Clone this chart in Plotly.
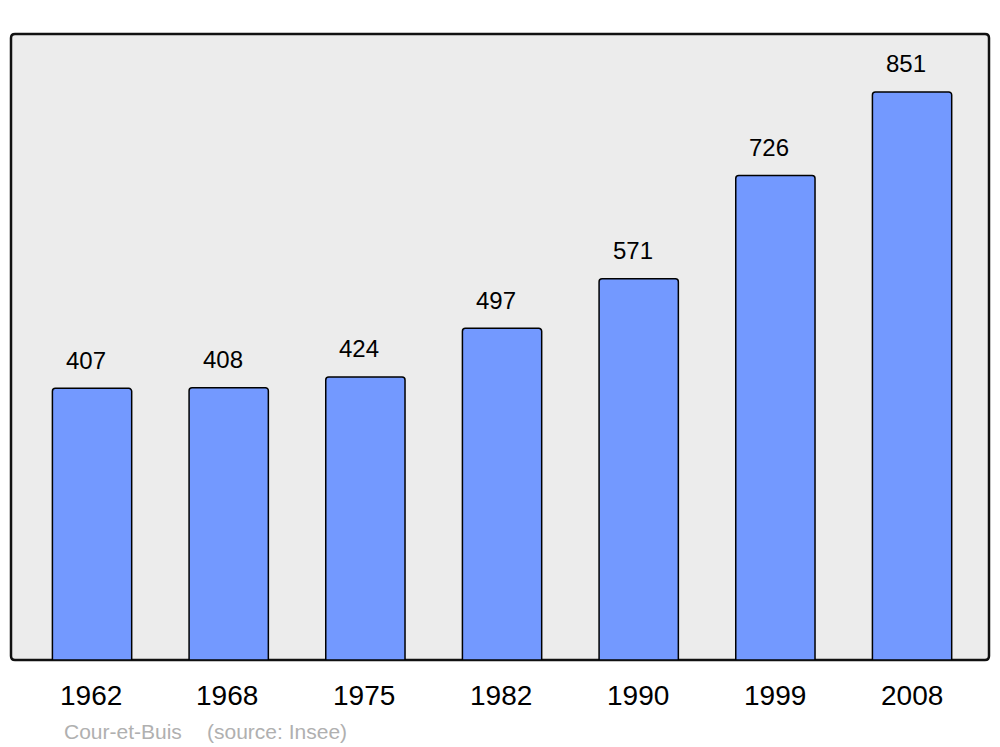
import plotly.graph_objects as go

years = ["1962", "1968", "1975", "1982", "1990", "1999", "2008"]
population = [407, 408, 424, 497, 571, 726, 851]
commune = "Cour-et-Buis"
source = "(source: Insee)"

xs = list(range(len(years)))
# page has an 8px body margin; compensate so the plot lands at page x 11..989, y 34..660
W, H = 992, 739
L, T = 3, 26
pw, ph = 978, 626
R, B = W - L - pw, H - T - ph

fig = go.Figure(go.Bar(
    x=xs, y=population, width=0.58,
    marker=dict(color="#7399ff", line=dict(color="black", width=1.5), cornerradius=3),
    hoverinfo="skip",
))

annotations = []
for x, v in zip(xs, population):
    annotations.append(dict(x=x, y=v, text=str(v), showarrow=False, yanchor="middle",
                            yshift=28, xshift=-6, font=dict(size=24, color="black")))
n = len(years)
for x, yr in zip(xs, years):
    annotations.append(dict(x=x, y=0, text=yr, showarrow=False, yanchor="middle",
                            yshift=-35, xshift=-1.5 * (1 - x / (n - 1)),
                            font=dict(size=28, color="black")))
annotations.append(dict(xref="paper", yref="paper", x=51 / pw, y=0, xanchor="left",
                        yanchor="middle", yshift=-71, text=commune, showarrow=False,
                        font=dict(size=21, color="#b0b0b0")))
annotations.append(dict(xref="paper", yref="paper", x=194 / pw, y=0, xanchor="left",
                        yanchor="middle", yshift=-71, text=source, showarrow=False,
                        font=dict(size=21, color="#b0b0b0")))

rx, ry = 4 / pw, 4 / ph
path = (f"M {rx},0 L {1-rx},0 Q 1,0 1,{ry} L 1,{1-ry} Q 1,1 {1-rx},1 "
        f"L {rx},1 Q 0,1 0,{1-ry} L 0,{ry} Q 0,0 {rx},0 Z")
fig.add_shape(type="path", path=path, xref="paper", yref="paper",
              line=dict(color="#111111", width=2.5), fillcolor="#ececec", layer="below")

fig.update_layout(
    width=W, height=H,
    margin=dict(l=L, r=R, t=T, b=B),
    paper_bgcolor="white", plot_bgcolor="white",
    font=dict(family="Liberation Sans, Arial, sans-serif"),
    xaxis=dict(range=[-0.593, 6.563], showticklabels=False, showgrid=False, zeroline=False),
    yaxis=dict(range=[0, 937.8], showticklabels=False, showgrid=False, zeroline=False),
    annotations=annotations,
    showlegend=False,
)

fig.write_html("out.html")
